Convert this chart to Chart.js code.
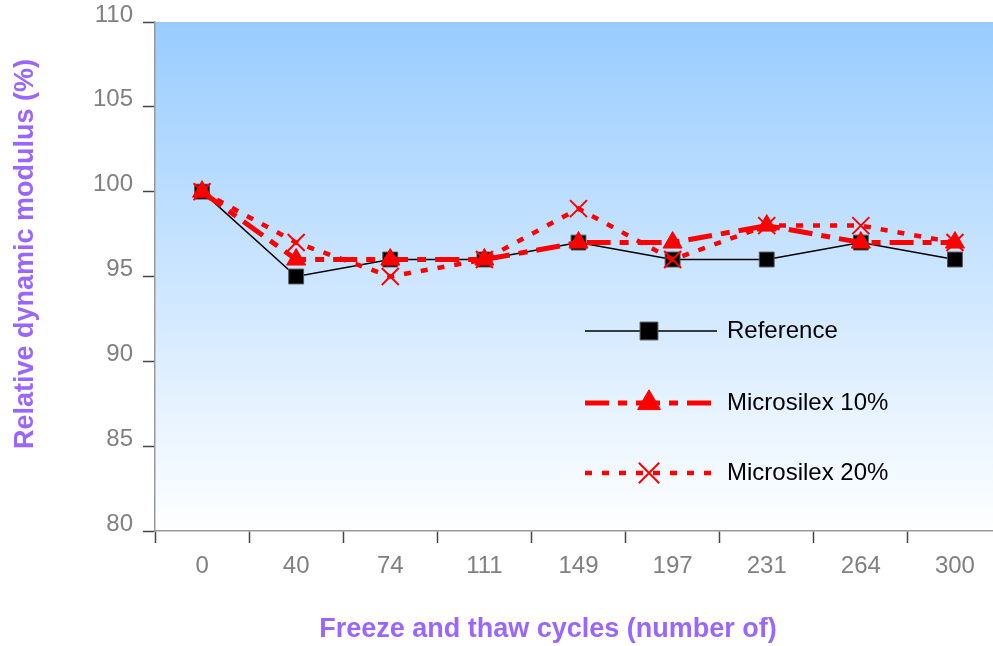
<!DOCTYPE html>
<html>
<head>
<meta charset="utf-8">
<script src="https://cdn.jsdelivr.net/npm/chart.js@4/dist/chart.umd.min.js"></script>
<style>
  html, body { margin: 0; padding: 0; background: #ffffff; }
  /* the plot area runs past the right edge of the picture, so the canvas is wider and clipped */
  #wrap { width: 993px; height: 646px; overflow: hidden; }
  #chart { display: block; }
</style>
</head>
<body>
<div id="wrap"><canvas id="chart" width="1016" height="646"></canvas></div>
<script>
// Categories along the x axis (number of freeze/thaw cycles)
var cycles = ["0", "40", "74", "111", "149", "197", "231", "264", "300"];

// Relative dynamic modulus (%)
var referenceValues = [100, 95, 96, 96, 97, 96, 96, 97, 96];
var microsilex10Values = [100, 96, 96, 96, 97, 97, 98, 97, 97];
var microsilex20Values = [100, 97, 95, 96, 99, 96, 98, 98, 97];

// Y axis range
var yMin = 80;
var yMax = 110;
var yStep = 5;

var titleColor = "#9966ff";
var tickColor = "#808080";
var fontName = "'Liberation Sans', Arial, sans-serif";

// ===============================
// Plugin: gradient plot background
// ===============================
var plotBackground = {
    id: "plotBackground",
    beforeDraw: function(chart) {
        var ctx = chart.ctx;
        var area = chart.chartArea;
        var grad = ctx.createLinearGradient(0, area.top, 0, area.bottom);
        grad.addColorStop(0, "#99ccff");
        grad.addColorStop(1, "#ffffff");
        ctx.save();
        ctx.fillStyle = grad;
        ctx.fillRect(area.left, area.top, area.right - area.left, area.bottom - area.top);
        ctx.restore();
    }
};

// ===============================
// Plugin: axis titles + legend inside the plot
// ===============================
var legendAndTitles = {
    id: "legendAndTitles",
    afterDraw: function(chart) {
        var ctx = chart.ctx;
        ctx.save();

        // axis titles
        ctx.fillStyle = titleColor;
        ctx.font = "bold 27px " + fontName;
        ctx.textAlign = "center";
        ctx.textBaseline = "alphabetic";
        ctx.fillText("Freeze and thaw cycles (number of)", 548, 637);

        ctx.save();
        ctx.translate(33, 254);
        ctx.rotate(-Math.PI / 2);
        ctx.fillText("Relative dynamic modulus (%)", 0, 0);
        ctx.restore();

        // legend rows, taken from the datasets
        var rowY = [331, 403, 473];
        chart.data.datasets.forEach(function(ds, i) {
            var y = rowY[i];
            ctx.save();
            ctx.strokeStyle = ds.borderColor;
            ctx.lineWidth = ds.borderWidth;
            ctx.setLineDash(ds.borderDash || []);
            ctx.beginPath();
            ctx.moveTo(585, y);
            ctx.lineTo(717, y);
            ctx.stroke();
            ctx.setLineDash([]);

            ctx.fillStyle = ds.pointBackgroundColor;
            ctx.strokeStyle = ds.pointBorderColor;
            ctx.lineWidth = ds.pointBorderWidth;
            Chart.helpers.drawPoint(ctx, {
                pointStyle: ds.pointStyle,
                radius: ds.pointRadius * 1.2,
                rotation: 0,
                borderWidth: ds.pointBorderWidth
            }, 649, y);
            ctx.restore();

            ctx.fillStyle = "#000000";
            ctx.font = "24px " + fontName;
            ctx.textAlign = "left";
            ctx.textBaseline = "middle";
            ctx.fillText(ds.label, 727, y);
        });

        ctx.restore();
    }
};

var ctx = document.getElementById("chart").getContext("2d");

var chart = new Chart(ctx, {
    type: "line",
    data: {
        labels: cycles,
        datasets: [
            {
                label: "Reference",
                data: referenceValues,
                borderColor: "#000000",
                borderWidth: 1.5,
                pointStyle: "rect",
                pointRadius: 10.5,
                pointBackgroundColor: "#000000",
                pointBorderColor: "#555555",
                pointBorderWidth: 1,
                tension: 0,
                order: 3
            },
            {
                label: "Microsilex 10%",
                data: microsilex10Values,
                borderColor: "#ff0000",
                borderWidth: 5,
                borderDash: [24, 9, 9, 9],
                pointStyle: "triangle",
                pointRadius: 11,
                pointBackgroundColor: "#ff0000",
                pointBorderColor: "#ff0000",
                pointBorderWidth: 1,
                tension: 0,
                order: 2
            },
            {
                label: "Microsilex 20%",
                data: microsilex20Values,
                borderColor: "#ff0000",
                borderWidth: 4.5,
                borderDash: [7, 10],
                pointStyle: "crossRot",
                pointRadius: 12,
                pointBackgroundColor: "#ff0000",
                pointBorderColor: "#ff0000",
                pointBorderWidth: 2,
                tension: 0,
                order: 1
            }
        ]
    },
    options: {
        responsive: false,
        animation: false,
        layout: {
            padding: { top: 22, right: 0, left: 0, bottom: 0 }
        },
        plugins: {
            legend: { display: false },
            tooltip: { enabled: false }
        },
        scales: {
            x: {
                offset: true,
                grid: {
                    offset: true,
                    drawOnChartArea: false,
                    drawTicks: true,
                    tickLength: 12,
                    tickColor: "#444444",
                    tickWidth: 1.5
                },
                border: { display: true, color: "#999999", width: 1.5 },
                ticks: {
                    color: tickColor,
                    font: { family: fontName, size: 24 },
                    padding: 9,
                    maxRotation: 0,
                    autoSkip: false
                },
                afterFit: function(scale) {
                    scale.height = 115;
                    scale.paddingLeft = 0;
                    scale.paddingRight = 0;
                }
            },
            y: {
                min: yMin,
                max: yMax,
                grid: {
                    drawOnChartArea: false,
                    drawTicks: true,
                    tickLength: 12,
                    tickColor: "#444444",
                    tickWidth: 1.5
                },
                border: { display: true, color: "#999999", width: 1.5 },
                ticks: {
                    stepSize: yStep,
                    color: tickColor,
                    font: { family: fontName, size: 24 },
                    padding: 10,
                    labelOffset: -7
                },
                afterFit: function(scale) {
                    scale.width = 155;
                    scale.paddingTop = 0;
                    scale.paddingBottom = 0;
                }
            }
        }
    },
    plugins: [plotBackground, legendAndTitles]
});
</script>
</body>
</html>
